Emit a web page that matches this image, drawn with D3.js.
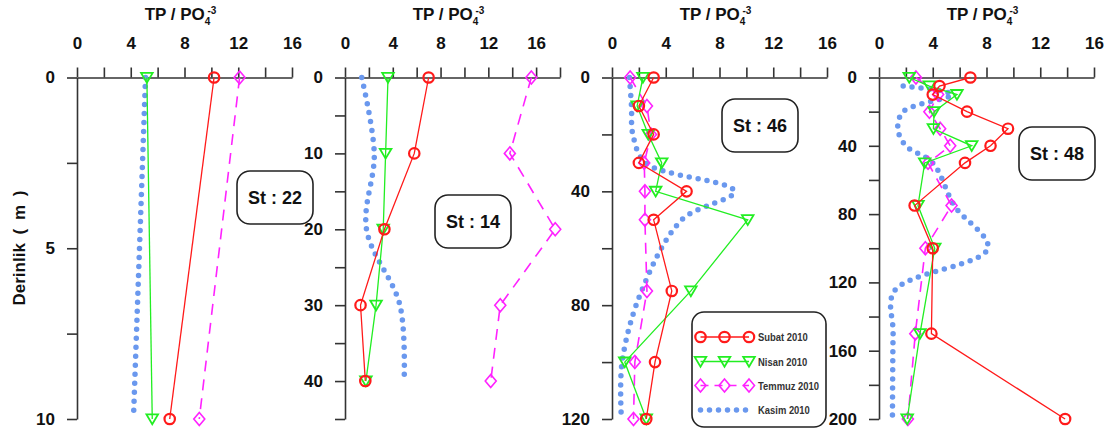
<!DOCTYPE html>
<html>
<head>
<meta charset="utf-8">
<script src="https://cdn.jsdelivr.net/npm/d3@7"></script>
<style>
  html, body { margin: 0; padding: 0; background: #fff; }
  svg { display: block; font-family: "Liberation Sans", Arial, sans-serif; }
</style>
</head>
<body>
<svg id="chart" width="1115" height="437"></svg>
<script>
// ---- Station 22 ----
const st22Depth = [0, 10];
const st22Subat = [10.2, 6.9];
const st22Nisan = [5.2, 5.6];
const st22Temmuz = [12.1, 9.1];
const st22KasimDepth = [0, 10];
const st22Kasim = [5.1, 4.2];

// ---- Station 14 ----
const st14Depth = [0, 10, 20, 30, 40];
const st14Subat = [7.0, 5.8, 3.3, 1.3, 1.7];
const st14Nisan = [3.6, 3.4, 3.2, 2.6, 1.75];
const st14Temmuz = [15.6, 13.8, 17.6, 13.0, 12.2];
const st14KasimDepth = [0, 10, 20, 30, 40];
const st14Kasim = [1.4, 2.45, 1.8, 4.6, 4.95];

// ---- Station 46 ----
const st46Depth = [0, 10, 20, 30, 40, 50, 75, 100, 120];
const st46Subat = [3.1, 2.0, 3.1, 2.0, 5.55, 3.1, 4.45, 3.2, 2.55];
const st46Nisan = [2.3, 1.87, 2.7, 3.7, 3.25, 10.1, 5.87, 0.95, 2.55];
const st46Temmuz = [1.35, 2.6, 2.9, 2.4, 2.45, 2.45, 2.6, 1.7, 1.6];
const st46KasimDepth = [0, 10, 20, 30, 40, 50, 75, 100, 120];
const st46Kasim = [1.3, 1.45, 1.55, 2.5, 9.1, 5.2, 2.2, 0.75, 0.7];

// ---- Station 48 ----
const st48Depth = [0, 5, 10, 20, 30, 40, 50, 75, 100, 150, 200];
const st48Subat = [6.8, 4.5, 4.0, 6.55, 9.6, 8.3, 6.4, 2.65, 4.0, 3.9, 13.85];
const st48Nisan = [2.25, 3.75, 5.8, 4.1, 4.05, 6.9, 3.4, 2.9, 4.15, 3.05, 2.1];
const st48TemmuzDepth = [0, 10, 20, 30, 40, 50, 75, 100, 150, 200];
const st48Temmuz = [2.75, 4.4, 3.75, 4.55, 5.3, 3.65, 5.4, 3.45, 2.7, 2.15];
const st48KasimDepth = [5, 10, 20, 30, 40, 50, 75, 100, 125, 150, 200];
const st48Kasim = [1.8, 5.4, 1.8, 1.4, 2.0, 4.0, 5.6, 8.1, 1.15, 1.05, 1.0];

// ---- Axis ticks ----
const tpTicks16 = [0, 2, 4, 6, 8, 10, 12, 14, 16];
const tpTicks18 = [0, 2, 4, 6, 8, 10, 12, 14, 16, 18];
const tpLabels = [0, 4, 8, 12, 16];
const st22DepthTicks = [0, 2.5, 5, 7.5, 10];
const st22DepthLabels = [0, 5, 10];
const st14DepthTicks = [0, 5, 10, 15, 20, 25, 30, 35, 40, 45];
const st14DepthLabels = [0, 10, 20, 30, 40];
const st46DepthTicks = [0, 20, 40, 60, 80, 100, 120];
const st46DepthLabels = [0, 40, 80, 120];
const st48DepthTicks = [0, 20, 40, 60, 80, 100, 120, 140, 160, 180, 200];
const st48DepthLabels = [0, 40, 80, 120, 160, 200];

const seriesNames = ["Subat 2010", "Nisan 2010", "Temmuz 2010", "Kasim 2010"];
const stationNames = ["St : 22", "St : 14", "St : 46", "St : 48"];

// ---- Styles ----
const C_RED = "#ff1a1a", C_GREEN = "#22ee22", C_MAG = "#ff22ff", C_BLUE = "#6a98ee";
const AXIS = "#333";

// box: station label box position (x relative to panel, absolute y)
const stations = [
  { name: stationNames[0], maxTP: 16, xTicks: tpTicks16, maxDepth: 10, yTicks: st22DepthTicks, yLabels: st22DepthLabels,
    depth: st22Depth, subat: st22Subat, nisan: st22Nisan, temmuzDepth: st22Depth, temmuz: st22Temmuz,
    kasimDepth: st22KasimDepth, kasim: st22Kasim, box: [160, 171] },
  { name: stationNames[1], maxTP: 18, xTicks: tpTicks18, maxDepth: 45, yTicks: st14DepthTicks, yLabels: st14DepthLabels,
    depth: st14Depth, subat: st14Subat, nisan: st14Nisan, temmuzDepth: st14Depth, temmuz: st14Temmuz,
    kasimDepth: st14KasimDepth, kasim: st14Kasim, box: [90, 195] },
  { name: stationNames[2], maxTP: 16, xTicks: tpTicks16, maxDepth: 120, yTicks: st46DepthTicks, yLabels: st46DepthLabels,
    depth: st46Depth, subat: st46Subat, nisan: st46Nisan, temmuzDepth: st46Depth, temmuz: st46Temmuz,
    kasimDepth: st46KasimDepth, kasim: st46Kasim, box: [110, 99], legend: true },
  { name: stationNames[3], maxTP: 16, xTicks: tpTicks16, maxDepth: 200, yTicks: st48DepthTicks, yLabels: st48DepthLabels,
    depth: st48Depth, subat: st48Subat, nisan: st48Nisan, temmuzDepth: st48TemmuzDepth, temmuz: st48Temmuz,
    kasimDepth: st48KasimDepth, kasim: st48Kasim, box: [140, 127] }
];

const svg = d3.select("#chart");
const panelLeft = [77, 345, 612, 879];
const plotW = 215, plotTop = 77.5, plotBottom = 419;

// marker shapes
const circleSym = d3.symbol().type(d3.symbolCircle).size(85);
const triDown = "M-5.8,-4.6L5.8,-4.6L0,5.2z";
const diamond = "M0,-6.5L5.5,0L0,6.5L-5.5,0z";

function drawMarkers(g, pts, kind) {
  const sel = g.selectAll(null).data(pts).enter().append("path")
    .attr("transform", d => `translate(${d[0]},${d[1]})`)
    .attr("fill", "none");
  if (kind === "circle") sel.attr("d", circleSym()).attr("stroke", C_RED).attr("stroke-width", 2.2);
  if (kind === "tri") sel.attr("d", triDown).attr("stroke", C_GREEN).attr("stroke-width", 1.8);
  if (kind === "diamond") sel.attr("d", diamond).attr("stroke", C_MAG).attr("stroke-width", 1.6);
}

stations.forEach((st, i) => {
  const x0 = panelLeft[i];
  const g = svg.append("g").attr("transform", `translate(${x0},0)`);
  const x = d3.scaleLinear().domain([0, st.maxTP]).range([0, plotW]);
  const y = d3.scaleLinear().domain([0, st.maxDepth]).range([plotTop, plotBottom]);

  // axes
  const xAxis = d3.axisTop(x).tickValues(st.xTicks).tickSize(10).tickSizeOuter(0).tickPadding(19)
    .tickFormat(d => tpLabels.includes(d) ? d : "");
  const gx = g.append("g").attr("transform", `translate(0,${plotTop})`).call(xAxis);
  const yAxis = d3.axisLeft(y).tickValues(st.yTicks).tickSize(10).tickSizeOuter(0).tickPadding(12)
    .tickFormat(d => st.yLabels.includes(d) ? d : "");
  const gy = g.append("g").call(yAxis);
  [gx, gy].forEach(a => {
    a.select(".domain").attr("stroke", AXIS).attr("stroke-width", 1.6);
    a.selectAll(".tick line").attr("stroke", AXIS).attr("stroke-width", 1.6);
    a.selectAll(".tick text").attr("fill", "#111").style("font-size", "17px").style("font-weight", "bold")
      .style("font-family", "'Liberation Sans', Arial, sans-serif");
  });

  // title
  const t = g.append("text").attr("x", plotW / 2 - 4).attr("y", 20).attr("text-anchor", "middle")
    .attr("fill", "#111").style("font-size", "17px").style("font-weight", "bold");
  t.append("tspan").text("TP / PO");
  t.append("tspan").attr("dy", 5).style("font-size", "10px").text("4");
  t.append("tspan").attr("dx", -3).attr("dy", -11).style("font-size", "10px").text("-3");

  // Kasim (smoothed dotted)
  const kasimPts = st.kasimDepth.map((d, k) => [x(st.kasim[k]), y(d)]);
  g.append("path").attr("d", d3.line().curve(d3.curveCatmullRom.alpha(0.5))(kasimPts))
    .attr("fill", "none").attr("stroke", C_BLUE).attr("stroke-width", 5.5)
    .attr("stroke-linecap", "round").attr("stroke-dasharray", "0 9");

  // Temmuz (dashed)
  const temPts = st.temmuzDepth.map((d, k) => [x(st.temmuz[k]), y(d)]);
  g.append("path").attr("d", d3.line()(temPts)).attr("fill", "none").attr("stroke", C_MAG)
    .attr("stroke-width", 1.6).attr("stroke-dasharray", "11 8");
  drawMarkers(g, temPts, "diamond");

  // Nisan
  const nisPts = st.depth.map((d, k) => [x(st.nisan[k]), y(d)]);
  g.append("path").attr("d", d3.line()(nisPts)).attr("fill", "none").attr("stroke", C_GREEN).attr("stroke-width", 1.3);
  drawMarkers(g, nisPts, "tri");

  // Subat
  const subPts = st.depth.map((d, k) => [x(st.subat[k]), y(d)]);
  g.append("path").attr("d", d3.line()(subPts)).attr("fill", "none").attr("stroke", C_RED).attr("stroke-width", 1.3);
  drawMarkers(g, subPts, "circle");

  // station label
  const bg = g.append("g").attr("transform", `translate(${st.box[0]},${st.box[1]})`);
  bg.append("rect").attr("width", 76).attr("height", 53).attr("rx", 13).attr("ry", 13)
    .attr("fill", "#fff").attr("stroke", "#222").attr("stroke-width", 1.6);
  bg.append("text").attr("x", 38).attr("y", 33).attr("text-anchor", "middle").attr("fill", "#111")
    .style("font-size", "18px").style("font-weight", "bold").text(st.name);

  // legend
  if (st.legend) {
    const lg = g.append("g").attr("transform", `translate(${692 - x0},312)`);
    lg.append("rect").attr("width", 134).attr("height", 115).attr("rx", 12).attr("ry", 12)
      .attr("fill", "#fff").attr("stroke", "#222").attr("stroke-width", 1.6);
    const rows = [25, 49.5, 73.5, 98];
    const lx = [8.5, 32.5, 57];
    seriesNames.forEach((nm, k) => {
      const yy = rows[k];
      const lineSeg = lg.append("line").attr("x1", lx[0]).attr("x2", lx[2]).attr("y1", yy).attr("y2", yy).attr("fill", "none");
      if (k === 0) { lineSeg.attr("stroke", C_RED).attr("stroke-width", 1.3); drawMarkers(lg, lx.map(v => [v, yy]), "circle"); }
      if (k === 1) { lineSeg.attr("stroke", C_GREEN).attr("stroke-width", 1.3); drawMarkers(lg, lx.map(v => [v, yy]), "tri"); }
      if (k === 2) { lineSeg.attr("stroke", C_MAG).attr("stroke-width", 1.6).attr("stroke-dasharray", "8 6"); drawMarkers(lg, lx.map(v => [v, yy]), "diamond"); }
      if (k === 3) { lineSeg.attr("x2", 54).attr("stroke", C_BLUE).attr("stroke-width", 5.5).attr("stroke-linecap", "round").attr("stroke-dasharray", "0 9"); }
      lg.append("text").attr("transform", `translate(66,${yy + 4}) scale(0.82,1)`).attr("fill", "#333")
        .style("font-size", "11.5px").style("font-weight", "bold").text(nm);
    });
  }
});

// shared depth label
svg.append("text").attr("transform", "translate(25,248) rotate(-90)").attr("text-anchor", "middle")
  .attr("fill", "#111").style("font-size", "17px").style("font-weight", "bold")
  .style("word-spacing", "4px").text("Derinlik ( m )");
</script>
</body>
</html>
